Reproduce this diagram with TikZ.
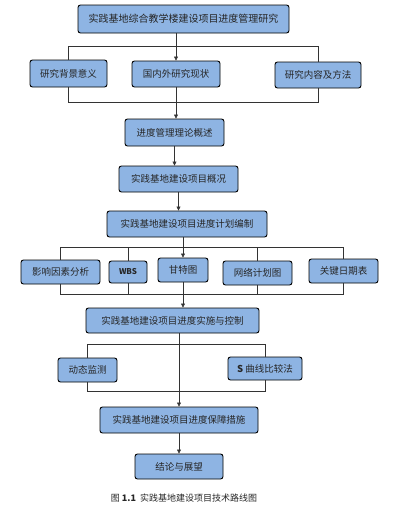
\documentclass[tikz,border=0pt]{standalone}
\usepackage{fontspec}
\setmainfont{Noto Sans CJK SC}
\usetikzlibrary{arrows.meta}
\definecolor{boxfill}{HTML}{8EB4E3}
\tikzset{
  box/.style={draw=black, line width=0.9pt, fill=boxfill, rounded corners=2.5pt,
    inner sep=0pt, align=center, font=\fontsize{9.5}{11}\selectfont, text=black!85},
  conn/.style={draw=black!80, line width=0.6pt},
  arr/.style={conn, -{Triangle[length=4pt,width=4pt]}}
}
\begin{document}
\begin{tikzpicture}[x=1pt,y=-1pt]
\useasboundingbox (0,0) rectangle (404,512);
\node[box, minimum width=211pt, minimum height=28pt, font=\fontsize{10}{12}\selectfont] (title) at (183.5,19) {实践基地综合教学楼建设项目进度管理研究};
\node[box, minimum width=77pt, minimum height=27pt] (bg) at (68.5,73.5) {研究背景意义};
\node[box, minimum width=88pt, minimum height=26pt] (gn) at (176,74) {国内外研究现状};
\node[box, minimum width=86pt, minimum height=26pt] (nr) at (318,75) {研究内容及方法};
\node[box, minimum width=99pt, minimum height=27pt] (llgs) at (174.5,132.5) {进度管理理论概述};
\node[box, minimum width=119pt, minimum height=26pt] (gk) at (178.5,179) {实践基地建设项目概况};
\node[box, minimum width=160pt, minimum height=26pt] (jh) at (187,224) {实践基地建设项目进度计划编制};
\node[box, minimum width=79pt, minimum height=24pt] (yx) at (60.5,272) {影响因素分析};
\node[box, minimum width=38pt, minimum height=22pt, font=\fontsize{8}{10}\selectfont\bfseries] (wbs) at (128,272) {WBS};
\node[box, minimum width=50pt, minimum height=24pt] (gtt) at (183,270) {甘特图};
\node[box, minimum width=69pt, minimum height=24pt] (wl) at (257.5,273) {网络计划图};
\node[box, minimum width=69pt, minimum height=24pt] (gj) at (343.5,271) {关键日期表};
\node[box, minimum width=173pt, minimum height=25pt] (ss) at (172.5,320.5) {实践基地建设项目进度实施与控制};
\node[box, minimum width=59pt, minimum height=24pt] (dt) at (87.5,370) {动态监测};
\node[box, minimum width=74pt, minimum height=23pt] (sq) at (265,368.5) {\textbf{S} 曲线比较法};
\node[box, minimum width=158pt, minimum height=26pt] (bz) at (179,420) {实践基地建设项目进度保障措施};
\node[box, minimum width=88pt, minimum height=25pt] (jl) at (179,466.5) {结论与展望};
\node[font=\fontsize{9}{11}\selectfont, text=black!85] (cap) at (184,498) {图 \textbf{1.1}\ \ 实践基地建设项目技术路线图};
% brackets
\coordinate (t1) at (0,46);
\coordinate (t2) at (0,102);
\coordinate (t3) at (0,247);
\coordinate (t4) at (0,294);
\coordinate (t5) at (0,344);
\coordinate (t6) at (0,391);
% row 2
\draw[conn] (bg.north) -- (bg.north |- t1) -- (nr.north |- t1) -- (nr.north);
\draw[arr] (title.south -| gn.north) -- (gn.north);
\draw[conn] (bg.south) -- (bg.south |- t2) -- (nr.south |- t2) -- (nr.south);
\draw[arr] (gn.south) -- (gn.south |- llgs.north);
\draw[arr] (llgs.south) -- (llgs.south |- gk.north);
\draw[arr] (gk.south) -- (gk.south |- jh.north);
% row 5
\draw[conn] (jh.south -| gtt.north) -- (gtt.north |- t3);
\draw[conn] (yx.north) -- (yx.north |- t3) -- (gj.north |- t3) -- (gj.north);
\draw[conn] (wbs.north) -- (wbs.north |- t3);
\draw[conn] (wl.north) -- (wl.north |- t3);
\draw[arr] (gtt.north |- t3) -- (gtt.north);
\draw[conn] (yx.south) -- (yx.south |- t4) -- (gj.south |- t4) -- (gj.south);
\draw[conn] (wbs.south) -- (wbs.south |- t4);
\draw[conn] (wl.south) -- (wl.south |- t4);
\draw[arr] (gtt.south) -- (gtt.south |- ss.north);
% row 7
\draw[conn] (dt.north) -- (dt.north |- t5) -- (sq.north |- t5) -- (sq.north);
\draw[conn] (dt.south) -- (dt.south |- t6) -- (sq.south |- t6) -- (sq.south);
\draw[arr] (ss.south -| bz.north) -- (bz.north);
\draw[arr] (bz.south) -- (jl.north);
\end{tikzpicture}
\end{document}
